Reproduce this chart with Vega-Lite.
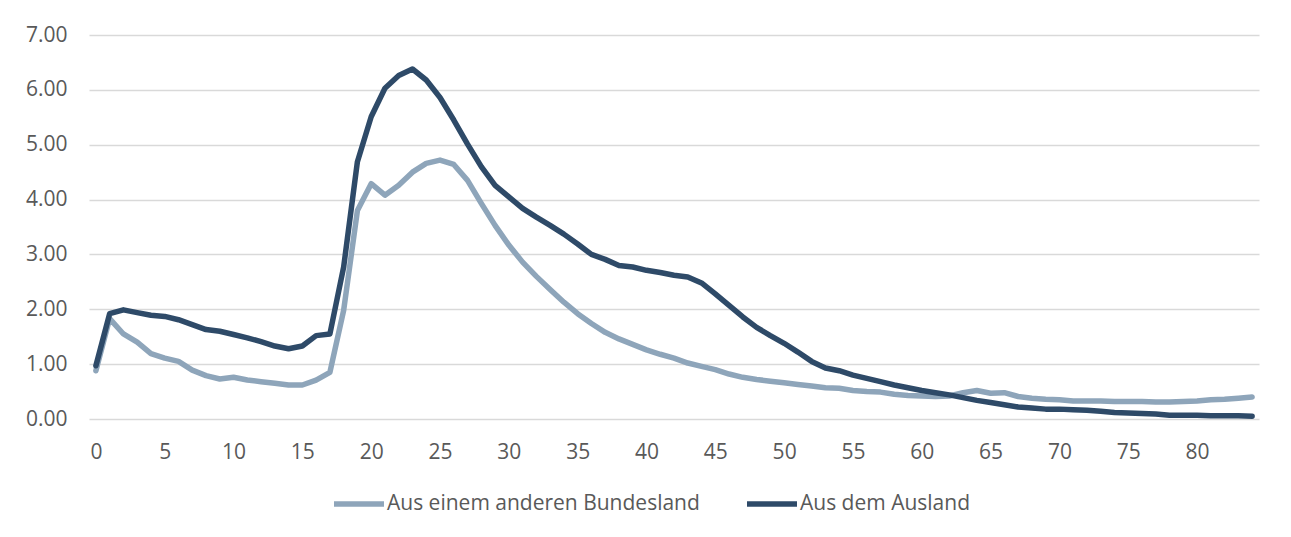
{
  "$schema": "https://vega.github.io/schema/vega-lite/v6.json",
  "autosize": {"type": "none"},
  "width": 1170,
  "height": 384,
  "padding": {"left": 89, "top": 35, "right": 32, "bottom": 118},
  "background": "white",
  "config": {
    "view": {"stroke": null},
    "font": "Open Sans",
    "axis": {"labelFont": "Open Sans", "labelFontSize": 21, "labelColor": "#595959"},
    "legend": {"labelFont": "Open Sans", "labelFontSize": 21, "labelColor": "#595959", "labelLimit": 600}
  },
  "datasets": {
    "bund": [0.88,1.83,1.55,1.40,1.19,1.11,1.05,0.89,0.79,0.73,0.76,0.71,0.68,0.65,0.62,0.62,0.71,0.85,1.98,3.80,4.29,4.08,4.26,4.50,4.66,4.72,4.64,4.35,3.93,3.53,3.17,2.86,2.60,2.36,2.13,1.92,1.74,1.58,1.46,1.36,1.26,1.18,1.11,1.02,0.96,0.90,0.82,0.76,0.72,0.69,0.66,0.63,0.60,0.57,0.56,0.52,0.50,0.49,0.45,0.43,0.42,0.41,0.42,0.48,0.52,0.47,0.48,0.41,0.38,0.36,0.35,0.33,0.33,0.33,0.32,0.32,0.32,0.31,0.31,0.32,0.33,0.35,0.36,0.38,0.40],
    "ausl": [0.97,1.92,1.99,1.94,1.89,1.87,1.81,1.72,1.63,1.60,1.54,1.48,1.41,1.33,1.28,1.33,1.52,1.55,2.77,4.69,5.51,6.03,6.26,6.38,6.18,5.86,5.45,5.01,4.60,4.26,4.05,3.84,3.68,3.53,3.37,3.19,3.00,2.91,2.80,2.77,2.71,2.67,2.62,2.59,2.48,2.28,2.07,1.86,1.67,1.52,1.38,1.22,1.05,0.93,0.88,0.80,0.74,0.68,0.62,0.57,0.52,0.48,0.44,0.39,0.34,0.30,0.26,0.22,0.20,0.18,0.18,0.17,0.16,0.14,0.12,0.11,0.10,0.09,0.07,0.07,0.07,0.06,0.06,0.06,0.05]
  },
  "data": {"values": []},
  "layer": [
    {
      "data": {"name": "bund"},
      "transform": [
        {"window": [{"op": "row_number", "as": "rn"}]},
        {"calculate": "datum.rn - 1", "as": "Alter"},
        {"calculate": "'Aus einem anderen Bundesland'", "as": "Serie"}
      ],
      "mark": {"type": "line", "strokeWidth": 5.5, "strokeCap": "round", "strokeJoin": "round"},
      "encoding": {
        "x": {"field": "Alter", "type": "quantitative", "scale": {"domain": [-0.5, 84.5], "nice": false, "zero": false},
              "axis": {"values": [0,5,10,15,20,25,30,35,40,45,50,55,60,65,70,75,80], "grid": false, "ticks": false, "domain": false, "labelPadding": 22, "title": null, "labelFlush": false}},
        "y": {"field": "data", "type": "quantitative", "scale": {"domain": [0, 7], "nice": false},
              "axis": {"values": [0,1,2,3,4,5,6,7], "format": ".2f", "grid": true, "gridColor": "#d9d9d9", "gridWidth": 1.3, "ticks": false, "domain": false, "labelPadding": 22, "title": null}},
        "color": {"field": "Serie", "type": "nominal",
                  "scale": {"domain": ["Aus einem anderen Bundesland", "Aus dem Ausland"], "range": ["#8ea5ba", "#2e4a68"]},
                  "legend": {"orient": "none", "legendX": 242, "legendY": 441, "direction": "horizontal", "title": null, "symbolType": "stroke", "symbolSize": 2500, "symbolStrokeWidth": 5.5, "labelOffset": 0, "columnPadding": 36}}
      }
    },
    {
      "data": {"name": "ausl"},
      "transform": [
        {"window": [{"op": "row_number", "as": "rn"}]},
        {"calculate": "datum.rn - 1", "as": "Alter"},
        {"calculate": "'Aus dem Ausland'", "as": "Serie"}
      ],
      "mark": {"type": "line", "strokeWidth": 5.5, "strokeCap": "round", "strokeJoin": "round"},
      "encoding": {
        "x": {"field": "Alter", "type": "quantitative"},
        "y": {"field": "data", "type": "quantitative"},
        "color": {"field": "Serie", "type": "nominal"}
      }
    }
  ]
}
